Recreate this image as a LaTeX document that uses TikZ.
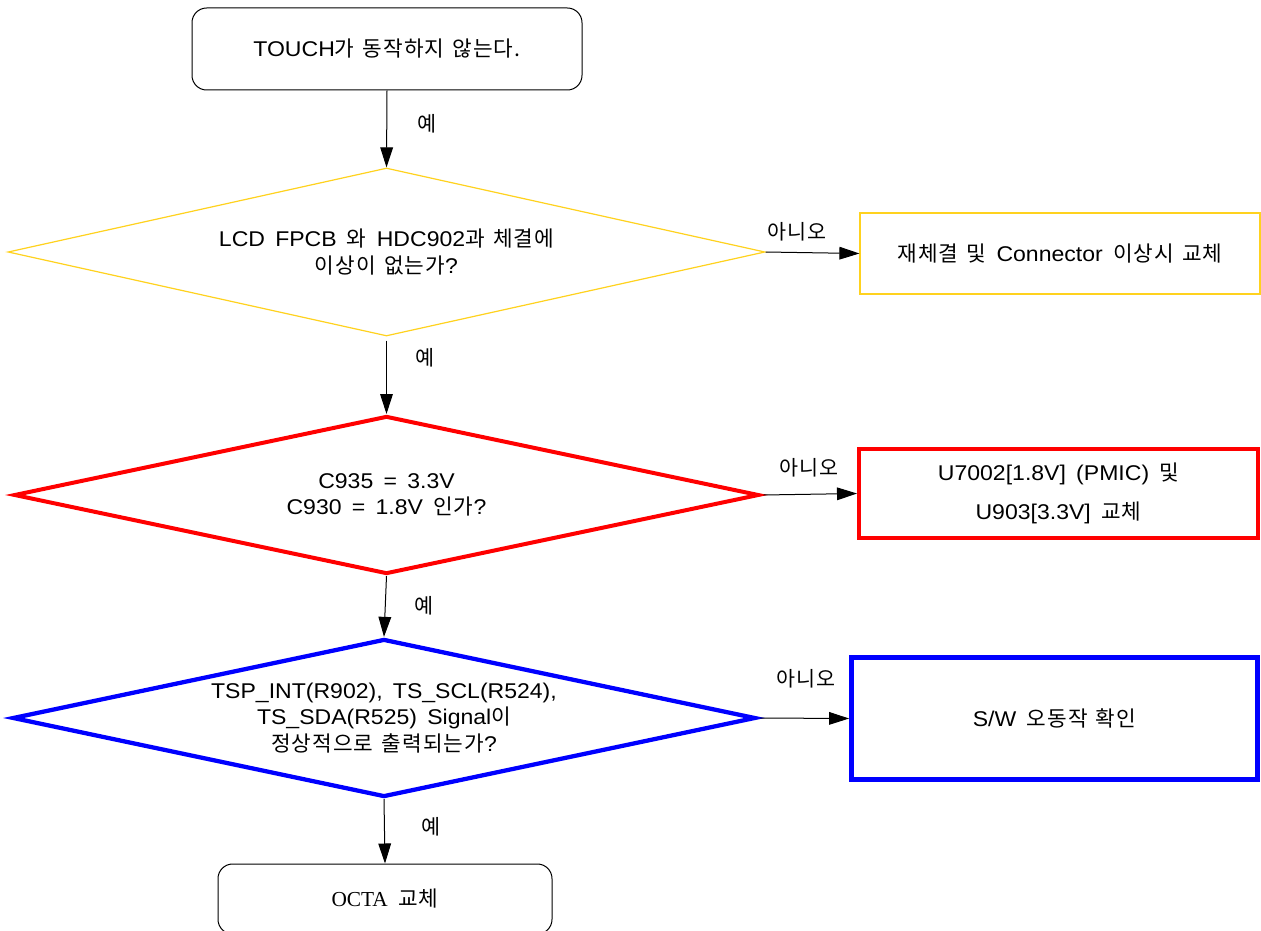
\documentclass[tikz,border=0pt]{standalone}
\usepackage{fontspec}
\setmainfont{Liberation Sans}[FakeStretch=1.08, WordSpace=1.6]
\newfontfamily\krf{Noto Sans CJK KR}[Scale=1.0, LetterSpace=5, WordSpace=1.4]
\newfontfamily\serf{Liberation Serif}
\usetikzlibrary{shapes.geometric,arrows.meta}
\newcommand\K[1]{{\krf #1}}
\definecolor{dyellow}{RGB}{255,210,30}
\definecolor{dred}{RGB}{255,0,0}
\definecolor{dblue}{RGB}{0,0,255}
\begin{document}
\begin{tikzpicture}[x=0.75pt,y=-0.75pt,
  txt/.style={font=\fontsize{16}{20}\selectfont, align=center},
  startend/.style={txt, draw=black, line width=0.75pt, rounded corners=11pt, inner sep=0pt},
  boxbase/.style={txt, inner sep=0pt},
  diabase/.style={diamond, inner sep=0pt, aspect=4.5},
  flow/.style={draw=black, line width=0.75pt, -{Triangle[length=15pt,width=9.5pt]}},
  lbl/.style={font=\krf\fontsize{15.5}{18}\selectfont, inner sep=0pt}
]
\clip (0,0) rectangle (1261,931);
\fill[white] (0,0) rectangle (1261,931);

% start
\node[startend, minimum width=390*0.75pt, minimum height=82*0.75pt] (start) at (387,49) {TOUCH\K{가 동작하지 않는다.}};

% diamond 1 (yellow)
\node[diabase, draw=dyellow, line width=0.9pt, minimum width=757*0.75pt, minimum height=168*0.75pt,
  label={[txt, name=d1t]center:LCD FPCB \K{와} HDC902\K{과 체결에}\\\K{이상이 없는가}?}] (d1) at (386.5,252) {};

% box 1 (yellow)
\node[boxbase, draw=dyellow, line width=0.9pt, minimum width=400*0.75pt, minimum height=81*0.75pt] (b1) at (1060,253.5) {\K{재체결 및} Connector \K{이상시 교체}};

% diamond 2 (red)
\node[diabase, draw=dred, line width=3pt, minimum width=745*0.75pt, minimum height=158*0.75pt,
  label={[txt, name=d2t]center:C935 = 3.3V\\C930 = 1.8V \K{인가}?}] (d2) at (386.5,495) {};

% box 2 (red)
\node[boxbase, draw=dred, line width=3pt, minimum width=399*0.75pt, minimum height=89*0.75pt] (b2) at (1058.5,493.5) {\raisebox{0pt}[0pt][0pt]{}U7002[1.8V] (PMIC) \K{및}\\[9pt]U903[3.3V] \K{교체}};

% diamond 3 (blue)
\node[diabase, draw=dblue, line width=3.2pt, minimum width=743*0.75pt, minimum height=158*0.75pt,
  label={[txt, name=d3t]center:TSP\_INT(R902), TS\_SCL(R524),\\TS\_SDA(R525) Signal\K{이}\\\K{정상적으로 출력되는가}?}] (d3) at (384,718) {};

% box 3 (blue)
\node[boxbase, draw=dblue, line width=3.6pt, minimum width=406*0.75pt, minimum height=122*0.75pt] (b3) at (1054.5,718.5) {S/W \K{오동작 확인}};

% end
\node[startend, minimum width=334*0.75pt, minimum height=70*0.75pt] (end) at (385,899) {{\serf OCTA} \K{교체}};

% connectors
\draw[flow] (start.south) -- (d1.north);
\draw[flow] ([yshift=-3pt]d1.south) -- (d2.north);
\draw[flow] (d2.south) -- (d3.north);
\draw[flow] (d3.south) -- (end.north);
\draw[flow] (d1.east) -- (b1.west);
\draw[flow] ([xshift=2pt]d2.east) -- (b2.west);
\draw[flow] ([xshift=2pt]d3.east) -- (b3.west);

% labels
\node[lbl] (y1) at (427,124) {예};
\node[lbl] (y2) at (425,358) {예};
\node[lbl] (y3) at (424,606) {예};
\node[lbl] (y4) at (431,827) {예};
\node[lbl] (n1) at (797,232) {아니오};
\node[lbl] (n2) at (809,468) {아니오};
\node[lbl] (n3) at (806,679) {아니오};
\end{tikzpicture}
\end{document}
